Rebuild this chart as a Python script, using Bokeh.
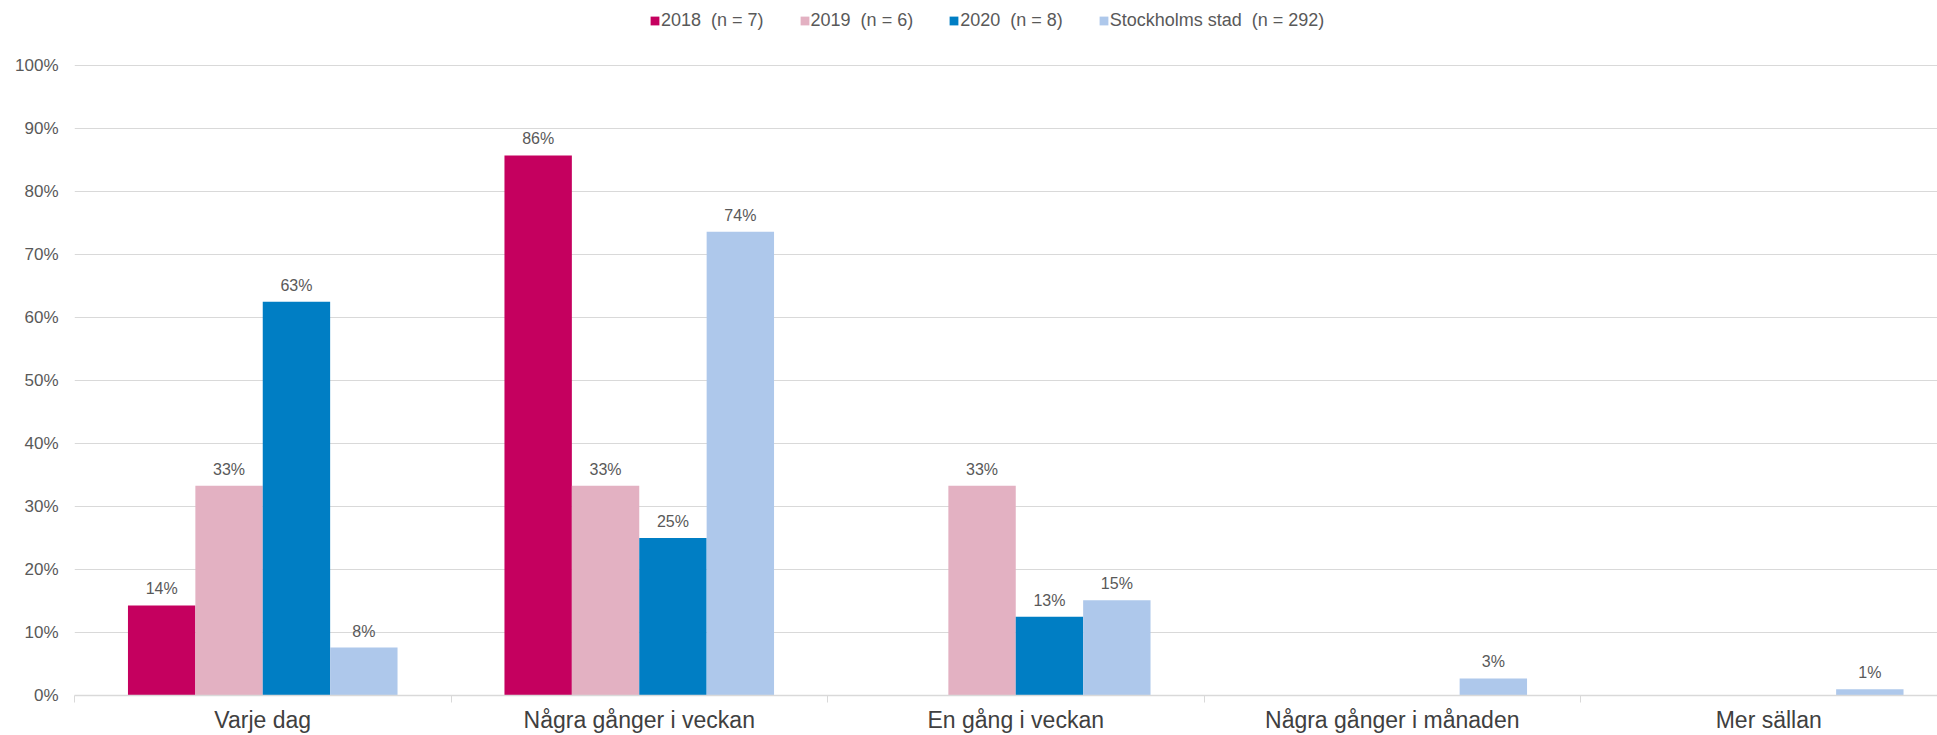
import math
from bokeh.plotting import figure
from bokeh.models import (ColumnDataSource, Range1d, FixedTicker, PrintfTickFormatter,
                          Legend, LegendItem)
from bokeh.core.properties import value
from bokeh.embed import file_html
from bokeh.resources import INLINE

# ---- data ----
categories = ["Varje dag", "Några gånger i veckan", "En gång i veckan",
              "Några gånger i månaden", "Mer sällan"]
series_names = ["2018  (n = 7)", "2019  (n = 6)", "2020  (n = 8)",
                "Stockholms stad  (n = 292)"]
values_2018 = [14.3, 85.7, 0.0, 0.0, 0.0]
values_2019 = [33.3, 33.3, 33.3, 0.0, 0.0]
values_2020 = [62.5, 25.0, 12.5, 0.0, 0.0]
values_sthlm = [7.6, 73.6, 15.1, 2.7, 1.0]
y_ticks = [0, 10, 20, 30, 40, 50, 60, 70, 80, 90, 100]

series_values = [values_2018, values_2019, values_2020, values_sthlm]
colors = ["#C5005F", "#E3B1C2", "#007EC4", "#AEC8EB"]

FONT = "Liberation Sans"
W, H = 1937, 735
LEFT, BOTTOM = 74, 38
CAT_PX = 376.5
PX_PER_UNIT = 6.32
x_end = (W - LEFT) / CAT_PX
frame_h = H - BOTTOM
y_end = frame_h / PX_PER_UNIT

p = figure(width=W, height=H, output_backend="svg", toolbar_location=None,
           x_range=Range1d(0, x_end), y_range=Range1d(0, y_end),
           min_border_left=LEFT, min_border_right=0, min_border_top=0,
           min_border_bottom=BOTTOM)
p.outline_line_color = None
p.background_fill_color = "white"

bar_w = 0.179
offsets = [-1.5, -0.5, 0.5, 1.5]

items = []
for name, vals, col, off in zip(series_names, series_values, colors, offsets):
    xs = [i + 0.5 + off * bar_w for i in range(len(categories))]
    src = ColumnDataSource(dict(x=xs, top=vals))
    r = p.vbar(x="x", top="top", width=bar_w, source=src, fill_color=col,
               line_color=None)
    items.append(LegendItem(label=name, renderers=[r]))
    lx, ly, lt = [], [], []
    for x, v in zip(xs, vals):
        if v > 0:
            lx.append(x)
            ly.append(v)
            lt.append(f"{math.floor(v + 0.5)}%")
    lsrc = ColumnDataSource(dict(x=lx, y=ly, t=lt))
    p.text(x="x", y="y", text="t", source=lsrc, y_offset=-8,
           text_align="center", text_baseline="bottom",
           text_font=value(FONT), text_font_size="16px", text_color="#595959")

# axes
xa = p.xaxis[0]
xa.ticker = FixedTicker(ticks=[i + 0.5 for i in range(len(categories))],
                        minor_ticks=list(range(len(categories) + 1)))
xa.major_label_overrides = {i + 0.5: c for i, c in enumerate(categories)}
xa.major_tick_out = 0
xa.major_tick_in = 0
xa.minor_tick_out = 7
xa.minor_tick_in = 0
xa.minor_tick_line_color = "#D9D9D9"
xa.axis_line_color = "#D9D9D9"
xa.axis_line_width = 1.5
xa.major_label_text_font = FONT
xa.major_label_text_font_size = "23px"
xa.major_label_text_color = "#404040"
xa.major_label_standoff = 4

ya = p.yaxis[0]
ya.ticker = FixedTicker(ticks=y_ticks)
ya.formatter = PrintfTickFormatter(format="%d%%")
ya.axis_line_color = None
ya.major_tick_line_color = None
ya.minor_tick_line_color = None
ya.major_label_text_font = FONT
ya.major_label_text_font_size = "17px"
ya.major_label_text_color = "#595959"
ya.major_label_standoff = 10

p.xgrid.grid_line_color = None
p.ygrid.grid_line_color = "#D9D9D9"
p.ygrid.grid_line_width = 1

legend = Legend(items=items, orientation="horizontal",
                location=(649 - LEFT, frame_h - 33),
                glyph_width=11, glyph_height=11, label_standoff=1,
                spacing=35, padding=0, margin=0, label_height=20,
                label_text_font=FONT, label_text_font_size="18px",
                label_text_color="#595959",
                border_line_color=None, background_fill_alpha=0)
p.add_layout(legend, "center")

open("out.html", "w").write(file_html(p, INLINE))
